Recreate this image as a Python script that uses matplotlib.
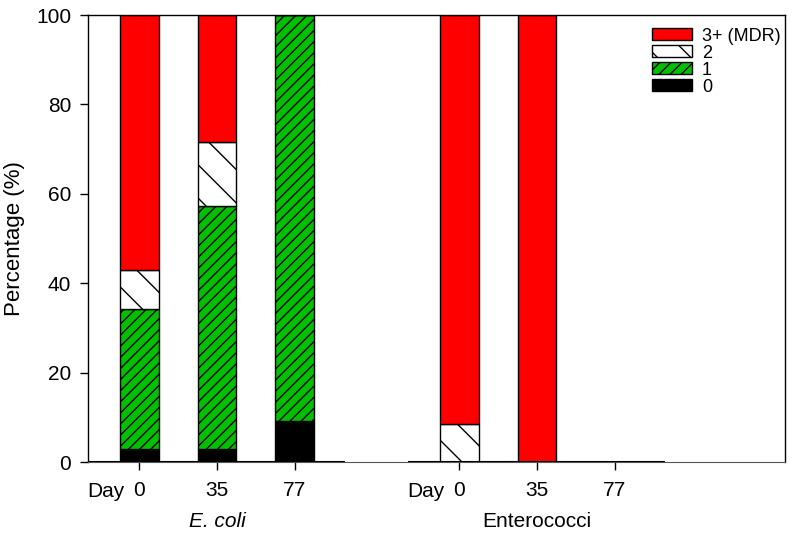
import matplotlib.pyplot as plt
import numpy as np

plt.rcParams['font.family'] = ['Liberation Sans', 'DejaVu Sans']
plt.rcParams['hatch.linewidth'] = 1.0

# group / day layout
groups = ['E. coli', 'Enterococci']
days = ['0', '35', '77']

# percentage of isolates resistant to n classes (per bar: E. coli 0/35/77, Enterococci 0/35/77)
res_0 = [2.9, 2.9, 9.1, 0, 0, 0]
res_1 = [31.4, 54.3, 90.9, 0, 0, 0]
res_2 = [8.6, 14.3, 0, 8.6, 0, 0]
res_3 = [57.1, 28.5, 0, 91.4, 100, 0]

pos = np.array([0, 1, 2, 4.12, 5.12, 6.12])
width = 0.5

fig, ax = plt.subplots(figsize=(8, 5.36), dpi=100)
fig.subplots_adjust(left=0.11, right=0.981, top=0.972, bottom=0.138)

b0 = ax.bar(pos, res_0, width, color='black', edgecolor='black', linewidth=1, label='0')
b1 = ax.bar(pos, res_1, width, bottom=res_0, color='#00c000', edgecolor='black',
            linewidth=1, hatch='///', label='1')
bot2 = np.array(res_0) + np.array(res_1)
b2 = ax.bar(pos, res_2, width, bottom=bot2, color='white', edgecolor='black',
            linewidth=1, hatch='\\', label='2')
bot3 = bot2 + np.array(res_2)
b3 = ax.bar(pos, res_3, width, bottom=bot3, color='red', edgecolor='black',
            linewidth=1, label='3+ (MDR)')

# zero lines under each group
ax.hlines(0, -0.66, 2.65, color='black', linewidth=1.5, zorder=3)
ax.hlines(0, 3.46, 6.77, color='black', linewidth=1.5, zorder=3)

ax.set_xlim(-0.66, 8.31)
ax.set_ylim(0, 100)
ax.set_yticks([0, 20, 40, 60, 80, 100])
ax.set_xticks(pos)
ax.set_xticklabels(days * 2)
ax.tick_params(axis='both', direction='out', length=6, width=1, labelsize=15, pad=6)
ax.tick_params(axis='x', pad=8)
ax.set_ylabel('Percentage (%)', fontsize=16, labelpad=8)

for s in ['left', 'top', 'right']:
    ax.spines[s].set_linewidth(1)
ax.spines['bottom'].set_color('#555555')
ax.spines['bottom'].set_linewidth(0.8)

trans = ax.get_xaxis_transform()
for p in [pos[0], pos[3]]:
    ax.text(p - 0.19, -0.065, 'Day', transform=trans, ha='right', va='center', fontsize=15)
ax.text(pos[1], -0.134, 'E. coli', transform=trans, ha='center', va='center',
        fontsize=15, style='italic')
ax.text(pos[4], -0.134, 'Enterococci', transform=trans, ha='center', va='center', fontsize=15)

ax.legend(handles=[b3, b2, b1, b0], loc='upper right', bbox_to_anchor=(1.012, 1.0),
          frameon=False, fontsize=13, handlelength=2.2, handleheight=0.65,
          labelspacing=0.0, handletextpad=0.55, borderaxespad=0.3)

fig.savefig('out.png')
